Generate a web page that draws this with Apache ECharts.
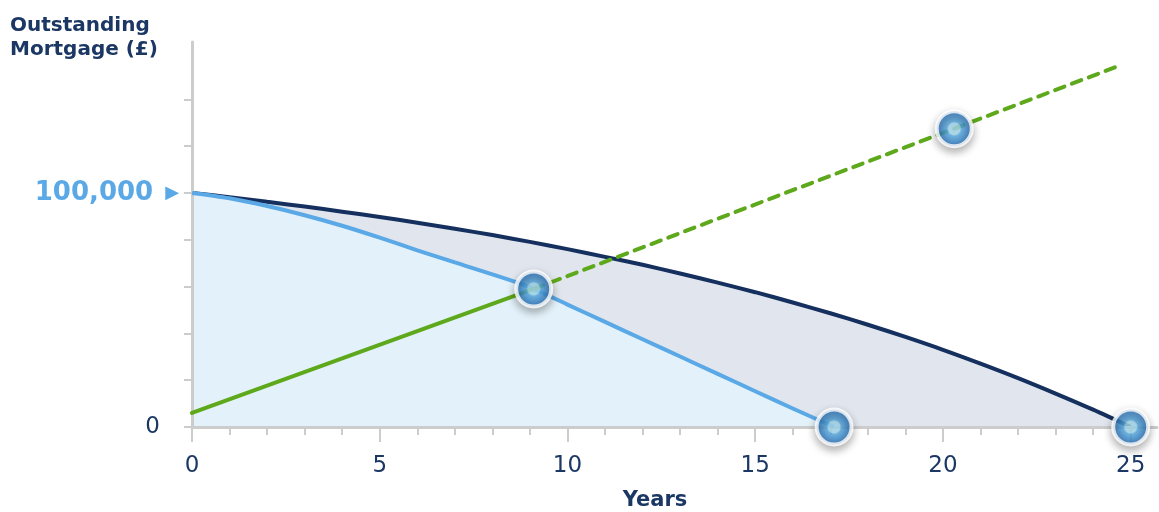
<!DOCTYPE html>
<html><head><meta charset="utf-8">
<script src="https://cdn.jsdelivr.net/npm/echarts@6/dist/echarts.min.js"></script>
<style>html,body{margin:0;padding:0;background:#fff}#c{width:1159px;height:512px}</style>
</head><body><div id="c"></div>
<script>
// ---- data ----
const years = [0,1,2,3,4,5,6,7,8,9,10,11,12,13,14,15,16,17,18,19,20,21,22,23,24,25];
const standardBalance = [100000,98200,96200,94200,92000,89700,87300,84700,82000,79100,76000,72700,69300,65600,61700,57600,53200,48600,43700,38500,33000,27100,20900,14300,7400,0];
const overpayYears = [0,1,2,3,4,5,6,7,8,9,10,11,12,13,14,15,16,17.1];
const overpayBalance = [100000,97700,94400,90500,86000,80900,75500,70300,65200,59700,52300,44900,37500,30100,22700,15300,7900,0];
const savingsSolidYears = [0,9.1];
const savingsSolidValues = [6000,59000];
const savingsDashYears = [9.1,24.6];
const savingsDashValues = [59000,153800];
const markerYears = [9.1,20.3,17.1,25];
const markerValues = [59000,127400,0,0];
const xLabelValues = [0,5,10,15,20,25];
const xMinorValues = [1,2,3,4,6,7,8,9,11,12,13,14,16,17,18,19,21,22,23,24];
const yTickValues = [0,20000,40000,60000,80000,100000,120000,140000];
const yLabelValues = [0,100000];
const yTitle = 'Outstanding\nMortgage (£)';
const xTitle = 'Years';

const pair = (xs, ys) => xs.map((x, i) => [x, ys[i]]);
const NAVY = '#1b3764';
const FONT = 'DejaVu Sans';

const chart = echarts.init(document.getElementById('c'), null, {renderer: 'canvas'});
const markerStyle = {
  color: {type: 'radial', x: 0.5, y: 0.5, r: 0.5, colorStops: [
    {offset: 0, color: '#a6dcf2'}, {offset: 0.3, color: '#a6dcf2'},
    {offset: 0.37, color: '#5aaee6'}, {offset: 0.75, color: '#3583c9'}, {offset: 1, color: '#1f5fa3'}]},
  borderColor: '#ffffff', borderWidth: 4,
  shadowBlur: 9, shadowColor: 'rgba(0,0,0,0.35)', shadowOffsetY: 4
};
chart.setOption({
  animation: false,
  backgroundColor: '#ffffff',
  textStyle: {fontFamily: FONT},
  grid: {left: 192, right: 2, top: 42, bottom: 85, containLabel: false},
  graphic: [
    {type: 'text', left: 10, top: 14, style: {text: yTitle, fill: NAVY, font: 'bold 20px "DejaVu Sans"', lineHeight: 24}},
    {type: 'text', x: 655, y: 501, style: {text: xTitle, fill: NAVY, font: 'bold 21px "DejaVu Sans"', align: 'center', verticalAlign: 'middle'}}
  ],
  xAxis: [{
    type: 'value', min: 0, max: 25.7, position: 'bottom', z: 3,
    splitLine: {show: false},
    axisLine: {show: true, lineStyle: {color: '#cccccc', width: 3}},
    axisTick: {show: true, customValues: xLabelValues, length: 15, lineStyle: {color: '#cccccc', width: 2}},
    axisLabel: {show: true, customValues: xLabelValues, margin: 28, color: NAVY, fontSize: 23, fontFamily: FONT}
  }, {
    type: 'value', min: 0, max: 25.7, position: 'bottom', z: 3,
    splitLine: {show: false},
    axisLine: {show: false},
    axisTick: {show: true, customValues: xMinorValues, length: 8, lineStyle: {color: '#cccccc', width: 2}},
    axisLabel: {show: false}
  }],
  yAxis: {
    type: 'value', min: 0, max: 164500, z: 3,
    splitLine: {show: false},
    axisLine: {show: true, lineStyle: {color: '#cccccc', width: 3}},
    axisTick: {show: true, customValues: yTickValues, length: 8, lineStyle: {color: '#cccccc', width: 2}},
    axisLabel: {
      show: true, customValues: yLabelValues, margin: 13,
      formatter: v => v === 100000 ? '{big|100,000}{tri|▶}' : '{zero|0}',
      rich: {
        big: {fontSize: 26, fontWeight: 'bold', color: '#5aa9e6', fontFamily: FONT},
        tri: {fontSize: 18, color: '#5aa9e6', padding: [0, 0, 0, 12], fontFamily: FONT},
        zero: {fontSize: 23, color: NAVY, padding: [0, 19, 0, 0], fontFamily: FONT}
      }
    }
  },
  series: [
    {type: 'line', name: 'standard', data: pair(years, standardBalance), smooth: 0.3, symbol: 'none', z: 2,
     lineStyle: {color: '#15305e', width: 4}, areaStyle: {color: '#e1e6ee', opacity: 1}},
    {type: 'line', name: 'overpay', data: pair(overpayYears, overpayBalance), smooth: 0.3, symbol: 'none', z: 3,
     lineStyle: {color: '#5aa9e6', width: 4}, areaStyle: {color: '#e3f2fa', opacity: 1}},
    {type: 'line', name: 'savingsSolid', data: pair(savingsSolidYears, savingsSolidValues), symbol: 'none', z: 4,
     lineStyle: {color: '#5ea81c', width: 4, cap: 'round'}},
    {type: 'line', name: 'savingsDash', data: pair(savingsDashYears, savingsDashValues), symbol: 'none', z: 4,
     lineStyle: {color: '#5ea81c', width: 4, type: [10, 8], cap: 'round'}},
    {type: 'scatter', name: 'markers', data: pair(markerYears, markerValues), symbolSize: 35, z: 6, clip: false,
     itemStyle: markerStyle}
  ]
});
</script></body></html>
